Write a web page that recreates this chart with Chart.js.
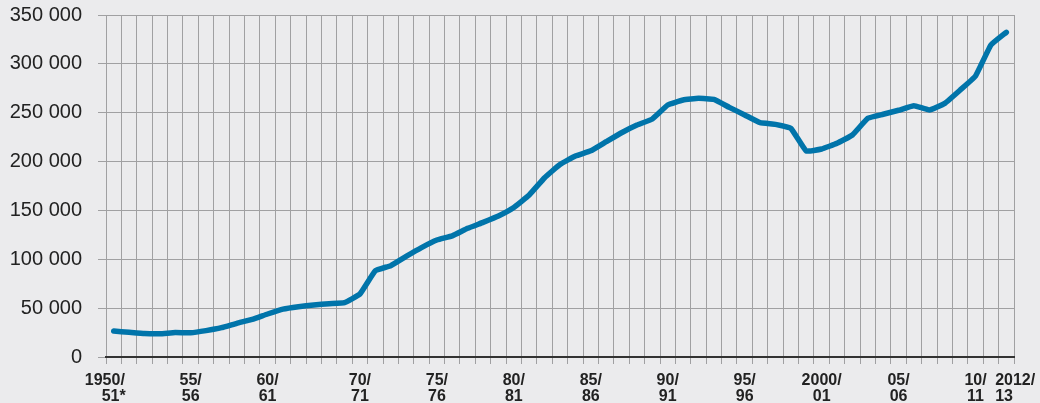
<!DOCTYPE html>
<html>
<head>
<meta charset="utf-8">
<script src="https://cdn.jsdelivr.net/npm/chart.js"></script>
<style>
  html, body { margin: 0; padding: 0; background: #ebebed; }
  #wrap { width: 1040px; height: 403px; position: relative; }
</style>
</head>
<body>
<div id="wrap"><canvas id="chart"></canvas></div>
<script>
// Studienjahre (die 60er Jahre sind nur teilweise vorhanden)
const seasons = [
  "1950/51", "1951/52", "1952/53", "1953/54", "1954/55", "1955/56", "1956/57", "1957/58", "1958/59", "1959/60",
  "1960/61", "1962/63", "1964/65", "1966/67", "1968/69", "1969/70",
  "1970/71", "1971/72", "1972/73", "1973/74", "1974/75", "1975/76", "1976/77", "1977/78", "1978/79", "1979/80",
  "1980/81", "1981/82", "1982/83", "1983/84", "1984/85", "1985/86", "1986/87", "1987/88", "1988/89", "1989/90",
  "1990/91", "1991/92", "1992/93", "1993/94", "1994/95", "1995/96", "1996/97", "1997/98", "1998/99", "1999/00",
  "2000/01", "2001/02", "2002/03", "2003/04", "2004/05", "2005/06", "2006/07", "2007/08", "2008/09", "2009/10",
  "2010/11", "2011/12", "2012/13"
];

const values = [
  26600, 25300, 24000, 23800, 25000, 24800, 27000, 30000, 34500, 38500,
  44000, 49000, 51500, 53200, 54600, 55600,
  64500, 88300, 93500, 103000, 112000, 119700, 124000, 131700, 137800, 144300,
  153000, 165800, 183500, 197000, 205700, 211000, 220300, 229500, 237400, 243600,
  257900, 263000, 264700, 263700, 255500, 247700, 239800, 238100, 234000, 210800,
  212900, 218700, 227200, 244300, 248400, 252500, 257200, 252800, 259600, 273200,
  287600, 319300, 332300
];

// nur diese Jahre bekommen eine Beschriftung
// (erste Beschriftung rechtsbündig, letzte linksbündig -> mit Leerzeichen aufgefüllt)
const tickSeasons = ["1950/51", "1955/56", "1960/61", "1970/71", "1975/76", "1980/81", "1985/86",
  "1990/91", "1995/96", "2000/01", "2005/06", "2010/11", "2012/13"];
const tickLabels = [["1950/    ", "    51*    "], ["55/", "56"], ["60/", "61"], ["70/", "71"], ["75/", "76"], ["80/", "81"], ["85/", "86"],
  ["90/", "91"], ["95/", "96"], ["2000/", "01"], ["05/", "06"], ["10/", "11"], ["    2012/", "    13     "]];

const gridGrey = "#a0a0a2";

function fmt(v) {
  return String(v).replace(/\B(?=(\d{3})+(?!\d))/g, " ");
}

new Chart(document.getElementById("chart"), {
  type: "line",
  data: {
    labels: seasons,
    datasets: [{
      data: values,
      borderColor: "#0074aa",
      borderWidth: 5.5,
      borderCapStyle: "round",
      borderJoinStyle: "round",
      pointRadius: 0,
      pointHoverRadius: 0,
      tension: 0.1,
      fill: false
    }]
  },
  options: {
    responsive: true,
    maintainAspectRatio: false,
    animation: false,
    events: [],
    layout: { autoPadding: false, padding: { top: 15, right: 26, bottom: 0, left: 0 } },
    plugins: {
      legend: { display: false },
      tooltip: { enabled: false }
    },
    scales: {
      x: {
        type: "category",
        offset: true,
        grid: { offset: true, color: gridGrey, lineWidth: 1, tickLength: 7 },
        border: { color: "#333333", width: 2 },
        afterFit: (scale) => { scale.height = 46; scale.paddingLeft = 0; scale.paddingRight = 0; },
        ticks: {
          autoSkip: false,
          maxRotation: 0,
          minRotation: 0,
          padding: 9,
          color: "#222222",
          font: { family: "Liberation Sans", size: 16, weight: "bold", lineHeight: 1.0 },
          callback: function (val, idx) {
            const k = tickSeasons.indexOf(seasons[idx]);
            return k >= 0 ? tickLabels[k] : "";
          }
        }
      },
      y: {
        min: 0,
        max: 350000,
        grid: { color: gridGrey, lineWidth: 1, tickLength: 8 },
        border: { display: false },
        afterFit: (scale) => { scale.width = 106; scale.paddingTop = 0; scale.paddingBottom = 0; },
        ticks: {
          stepSize: 50000,
          padding: 16,
          color: "#222222",
          font: { family: "Liberation Sans", size: 20 },
          callback: (v) => fmt(v)
        }
      }
    }
  }
});
</script>
</body>
</html>
